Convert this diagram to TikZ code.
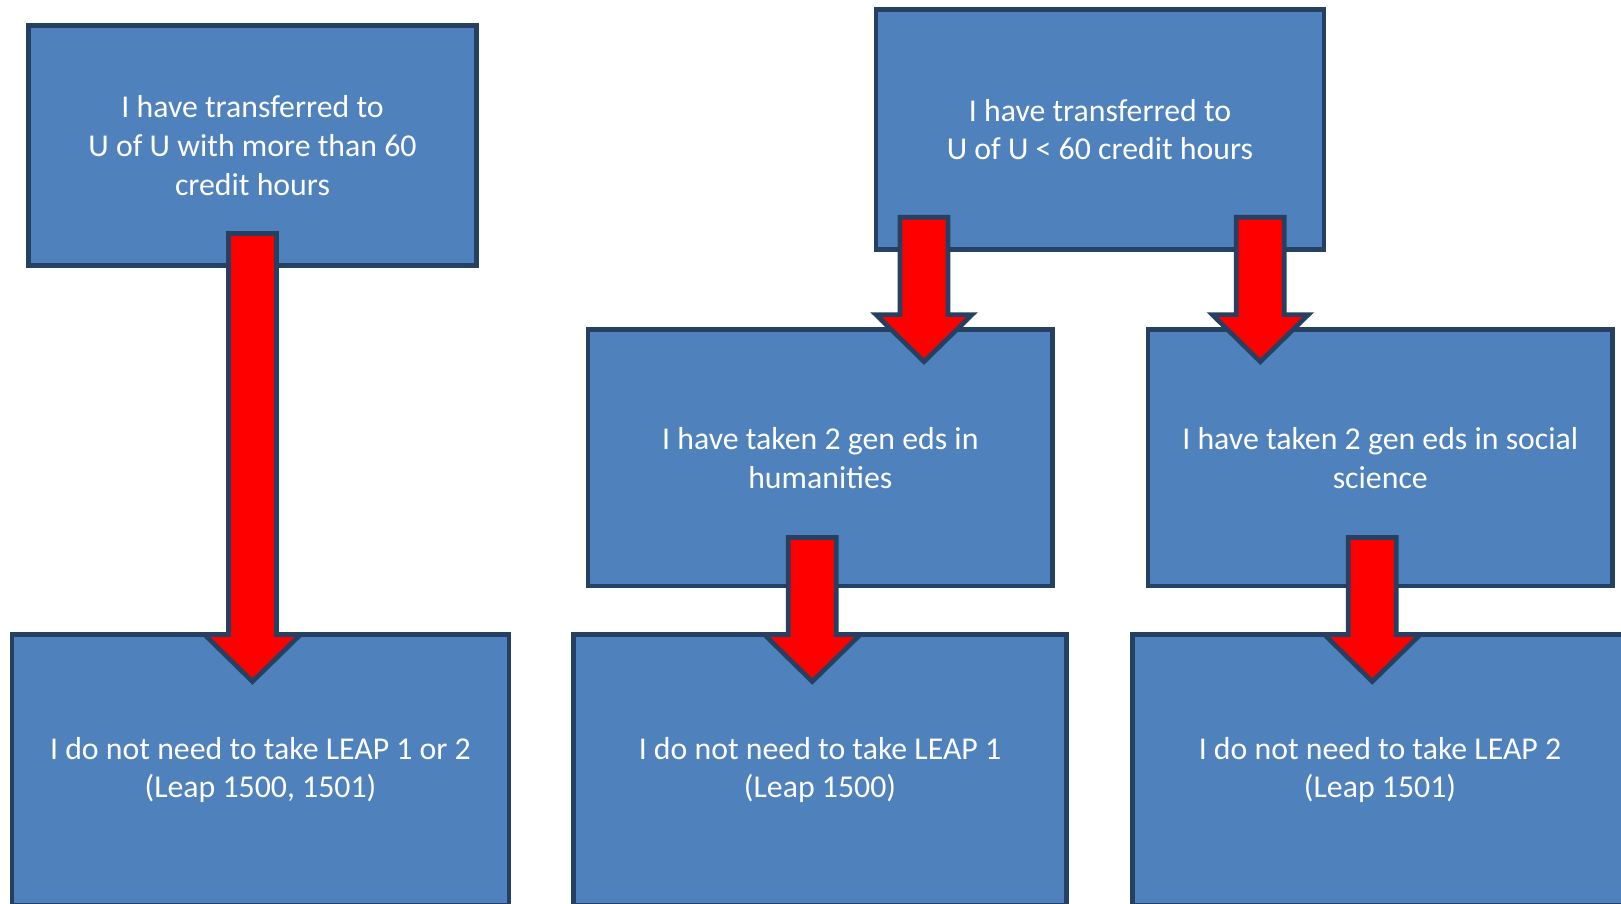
\documentclass[tikz,border=0pt]{standalone}
\usepackage{fontspec}
\setmainfont{Carlito}
\usepackage{tikz}
\usetikzlibrary{calc}
\definecolor{boxfill}{RGB}{79,129,189}
\definecolor{boxline}{RGB}{38,64,97}
\newcommand{\bigarrow}[2]{%
\draw[redarrow] let \p1=(#1), \p2=(#2) in
 (\x1-0.24cm,\y1) -- (\x1+0.24cm,\y1) -- (\x1+0.24cm,\y2+0.47cm) -- (\x1+0.48cm,\y2+0.47cm)
 -- (\x1,\y2) -- (\x1-0.48cm,\y2+0.47cm) -- (\x1-0.24cm,\y2+0.47cm) -- cycle;}

\begin{document}
\begin{tikzpicture}[
  bluebox/.style={draw=boxline,fill=boxfill,line width=1.34pt,outer sep=0pt,inner sep=0pt,
    text=white,align=center,font=\fontsize{9.05pt}{11pt}\selectfont},
  redarrow/.style={draw=boxline,fill=red,line width=1.34pt,line join=miter}]
%picture
\useasboundingbox (0,0) rectangle (16.21,-9.04);
\clip (0,0) rectangle (16.21,-9.04);
\node[bluebox,minimum width=4.48cm,minimum height=2.40cm] (trans60) at (2.525,-1.455) {I have transferred to\\U of U with more than 60\\credit hours};
\node[bluebox,minimum width=4.48cm,minimum height=2.396cm] (less60) at (11.00,-1.295) {I have transferred to\\U of U < 60 credit hours};
\node[bluebox,minimum width=4.645cm,minimum height=2.563cm] (hum) at (8.203,-4.578) {I have taken 2 gen eds in\\humanities};
\node[bluebox,minimum width=4.645cm,minimum height=2.563cm] (soc) at (13.803,-4.578) {I have taken 2 gen eds in social\\science};
\node[bluebox,minimum width=4.97cm,minimum height=2.71cm] (noleap) at (2.605,-7.70) {I do not need to take LEAP 1 or 2\\(Leap 1500, 1501)};
\node[bluebox,minimum width=4.935cm,minimum height=2.71cm] (noleapone) at (8.20,-7.70) {I do not need to take LEAP 1\\(Leap 1500)};
\node[bluebox,minimum width=4.95cm,minimum height=2.71cm] (noleaptwo) at (13.80,-7.70) {I do not need to take LEAP 2\\(Leap 1501)};
%arrows
\coordinate (s1) at ([yshift=0.32cm]trans60.south);
\coordinate (t1) at ([yshift=-0.47cm]noleap.north);
\coordinate (s2) at ([xshift=-1.76cm,yshift=0.32cm]less60.south);
\coordinate (t2) at ([yshift=-0.32cm]hum.north);
\coordinate (s3) at ([xshift=1.603cm,yshift=0.32cm]less60.south);
\coordinate (t3) at ([yshift=-0.32cm]soc.north);
\coordinate (s4) at ([xshift=-0.08cm,yshift=0.485cm]hum.south);
\coordinate (t4) at ([yshift=-0.47cm]noleapone.north);
\coordinate (s5) at ([xshift=-0.08cm,yshift=0.485cm]soc.south);
\coordinate (t5) at ([yshift=-0.47cm]noleaptwo.north);
\bigarrow{s1}{t1}
\bigarrow{s2}{t2}
\bigarrow{s3}{t3}
\bigarrow{s4}{t4}
\bigarrow{s5}{t5}
\end{tikzpicture}
\end{document}
